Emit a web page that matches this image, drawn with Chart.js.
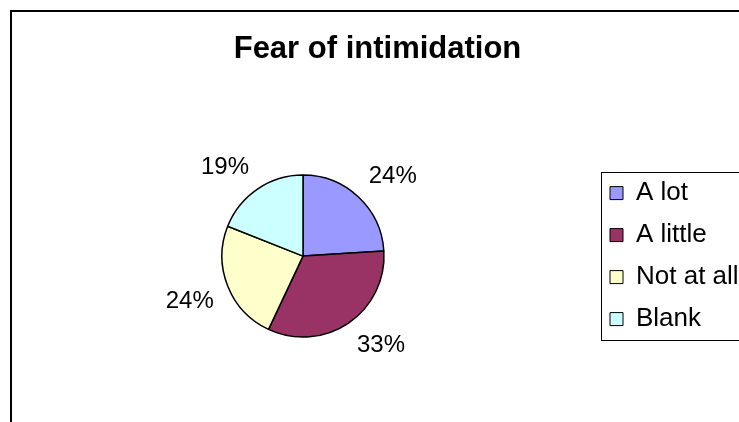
<!DOCTYPE html>
<html><head><meta charset="utf-8">
<script src="https://cdn.jsdelivr.net/npm/chart.js@4.4.1/dist/chart.umd.min.js"></script>
<style>html,body{margin:0;padding:0;background:#fff;overflow:hidden}#wrap{width:739px;height:422px;position:relative}</style>
</head><body><div id="wrap"><canvas id="c" width="739" height="422"></canvas></div>
<script>
const chartTitle = 'Fear of intimidation';
const categories = ['A lot', 'A little', 'Not at all', 'Blank'];
const percentages = [24, 33, 24, 19];
const sliceColors = ['#9999FF', '#993366', '#FFFFCC', '#CCFFFF'];

const FONT = "'Liberation Sans', Arial, sans-serif";
Chart.defaults.color = '#000';
Chart.defaults.font.family = FONT;

const framePlugin = {
  id: 'frame',
  beforeDraw(chart) {
    const ctx = chart.ctx;
    ctx.save();
    ctx.fillStyle = '#fff';
    ctx.fillRect(0, 0, chart.width, chart.height);
    ctx.strokeStyle = '#000';
    ctx.lineWidth = 2;
    ctx.beginPath();
    ctx.moveTo(11, chart.height + 2);
    ctx.lineTo(11, 11);
    ctx.lineTo(chart.width + 2, 11);
    ctx.stroke();
    ctx.restore();
  }
};

const sliceLabelPlugin = {
  id: 'sliceLabels',
  afterDatasetsDraw(chart) {
    const ctx = chart.ctx;
    const meta = chart.getDatasetMeta(0);
    const vals = chart.data.datasets[0].data;
    ctx.save();
    ctx.font = '24px ' + FONT;
    ctx.fillStyle = '#000';
    ctx.textAlign = 'center';
    ctx.textBaseline = 'middle';
    meta.data.forEach((arc, i) => {
      const p = arc.getProps(['x', 'y', 'startAngle', 'endAngle', 'outerRadius'], true);
      const mid = (p.startAngle + p.endAngle) / 2;
      const R = p.outerRadius + 15;
      const ax = p.x + Math.cos(mid) * R;
      const ay = p.y + Math.sin(mid) * R;
      const txt = vals[i] + '%';
      const w = ctx.measureText(txt).width;
      const h = 19;
      const cx = ax + Math.sign(Math.cos(mid)) * w / 2;
      const cy = ay + Math.sign(Math.sin(mid)) * h / 2;
      ctx.fillText(txt, cx, cy);
    });
    ctx.restore();
  }
};

const legendBoxPlugin = {
  id: 'legendBox',
  afterDraw(chart) {
    const lg = chart.legend;
    if (!lg || !lg.legendHitBoxes || !lg.legendHitBoxes.length) return;
    const hb = lg.legendHitBoxes;
    const top = hb[0].top - 8;
    const last = hb[hb.length - 1];
    const bottom = last.top + last.height + 8;
    const ctx = chart.ctx;
    ctx.save();
    ctx.strokeStyle = '#000';
    ctx.lineWidth = 1;
    ctx.strokeRect(Math.round(lg.left + 7) + 0.5, Math.round(top) + 0.5, 400, Math.round(bottom - top));
    ctx.restore();
  }
};

new Chart(document.getElementById('c'), {
  type: 'pie',
  data: {
    labels: categories,
    datasets: [{
      data: percentages,
      backgroundColor: sliceColors,
      borderColor: '#000',
      borderWidth: 1.5,
      hoverOffset: 0,
      radius: 81
    }]
  },
  options: {
    responsive: false,
    animation: false,
    devicePixelRatio: 1,
    layout: { padding: { left: 12, right: -4, top: 12, bottom: 10 } },
    plugins: {
      tooltip: { enabled: false },
      title: {
        display: true,
        text: chartTitle,
        color: '#000',
        font: { family: FONT, size: 31, weight: 'bold' },
        padding: { top: 19, bottom: 32 }
      },
      legend: {
        position: 'right',
        fullSize: false,
        maxWidth: 149,
        labels: {
          font: { family: FONT, size: 26 },
          color: '#000',
          boxWidth: 13,
          boxHeight: 13,
          padding: 16,
          generateLabels(chart) {
            const ds = chart.data.datasets[0];
            return chart.data.labels.map((t, i) => ({
              text: t, fillStyle: ds.backgroundColor[i], strokeStyle: '#000',
              lineWidth: 1, hidden: false, index: i, fontColor: '#000'
            }));
          }
        }
      }
    }
  },
  plugins: [framePlugin, sliceLabelPlugin, legendBoxPlugin]
});
</script></body></html>
